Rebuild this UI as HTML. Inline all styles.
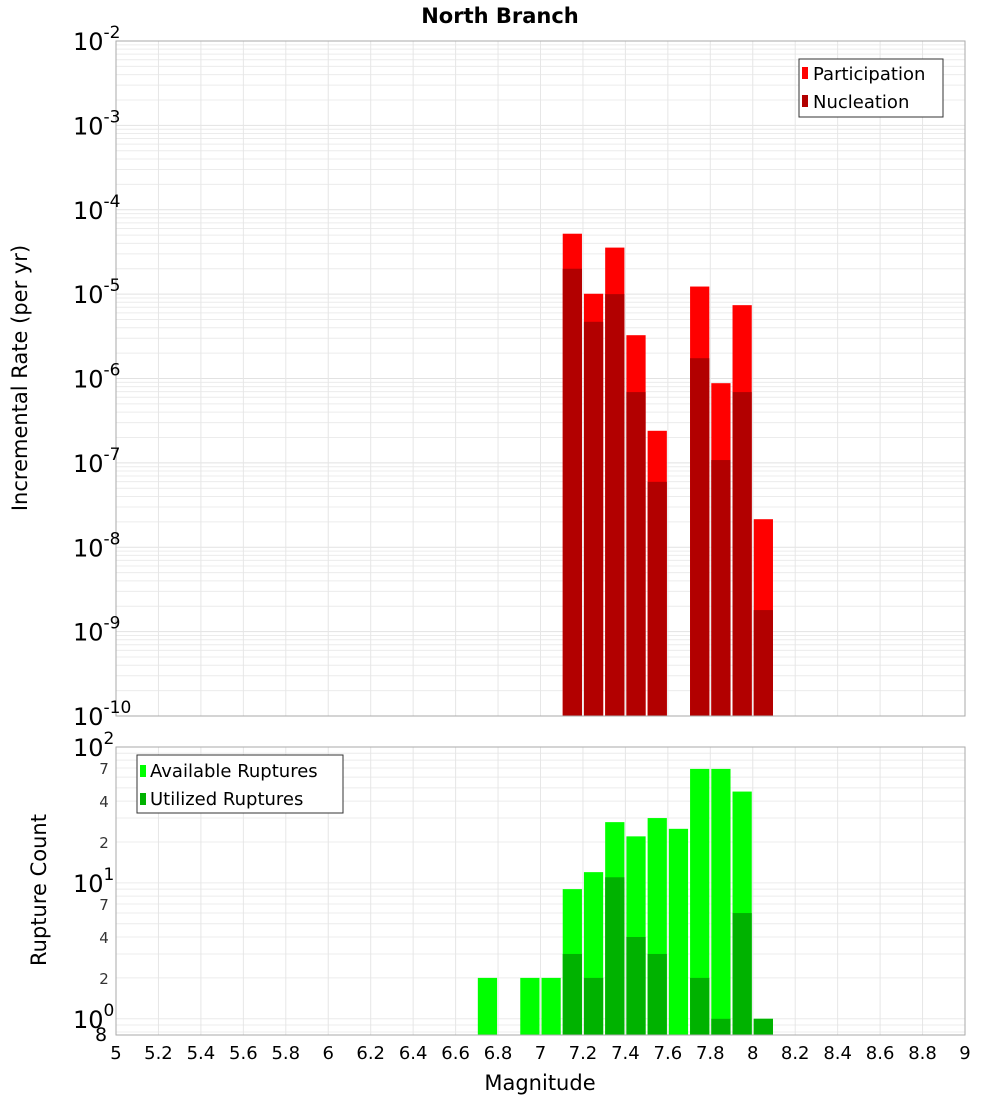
<!DOCTYPE html>
<html><head><meta charset="utf-8"><style>
html,body{margin:0;padding:0;background:#fff;}
svg{display:block;font-family:"DejaVu Sans","Liberation Sans",sans-serif;}
</style></head><body>
<svg id="chart" width="1000" height="1100" viewBox="0 0 1000 1100" xmlns="http://www.w3.org/2000/svg">
<g id="g"></g>
</svg>
<script>
const mags = [6.75,6.85,6.95,7.05,7.15,7.25,7.35,7.45,7.55,7.65,7.75,7.85,7.95,8.05];
const participation = [0,0,0,0,5.2e-5,1.01e-5,3.56e-5,3.26e-6,2.4e-7,0,1.23e-5,8.8e-7,7.4e-6,2.15e-8];
const nucleation = [0,0,0,0,2.0e-5,4.7e-6,1.0e-5,6.9e-7,5.96e-8,0,1.74e-6,1.08e-7,6.9e-7,1.8e-9];
const available = [2,0,2,2,9,12,28,22,30,25,69,69,47,1];
const utilized = [0,0,0,0,3,2,11,4,3,0,2,1,6,1];
const xTicks = [5,5.2,5.4,5.6,5.8,6,6.2,6.4,6.6,6.8,7,7.2,7.4,7.6,7.8,8,8.2,8.4,8.6,8.8,9];
const topExps = [-2,-3,-4,-5,-6,-7,-8,-9,-10];
const botMinorLabels = [2,4,7];

const NS="http://www.w3.org/2000/svg";
const G=document.getElementById('g');
function el(t,a,txt){const e=document.createElementNS(NS,t);for(const k in a)e.setAttribute(k,a[k]);if(txt!==undefined)e.textContent=txt;G.appendChild(e);return e;}
const X0=116,X1=965;
const xS=m=>X0+(m-5)/4*(X1-X0);
const T0=41,T1=716;
const yT=v=>T0+(-2-Math.log10(v))/8*(T1-T0);
const B0=747,B1=1035,BMIN=Math.log10(0.76);
const yB=v=>B0+(2-Math.log10(v))/(2-BMIN)*(B1-B0);
const bw=xS(5.1)-xS(5)-2;

// top grid
for(let d=-10;d<-2;d++){for(let k=1;k<10;k++){const y=yT(k*Math.pow(10,d));
const l=el('line',{x1:X0,x2:X1,y1:y,y2:y,stroke:k==1?'#e2e2e2':'#ececec','stroke-width':1});
}}
// bottom grid
for(let d=-1;d<2;d++){for(let k=1;k<10;k++){const v=k*Math.pow(10,d);if(v<0.76)continue;const y=yB(v);
const l=el('line',{x1:X0,x2:X1,y1:y,y2:y,stroke:'#ececec','stroke-width':1});
}}
xTicks.forEach(t=>{const x=xS(t);
[[T0,T1],[B0,B1]].forEach(r=>{const l=el('line',{x1:x,x2:x,y1:r[0],y2:r[1],stroke:'#e6e6e6','stroke-width':1});
});});

// top bars
mags.forEach((m,i)=>{const x=xS(m)-bw/2;
if(participation[i]>0){const r=el('rect',{x:x,y:yT(participation[i]),width:bw,height:T1-yT(participation[i]),fill:'#ff0000'});
}
if(nucleation[i]>0){const r=el('rect',{x:x,y:yT(nucleation[i]),width:bw,height:T1-yT(nucleation[i]),fill:'#b20000'});
}
if(available[i]>0){const r=el('rect',{x:x,y:yB(available[i]),width:bw,height:B1-yB(available[i]),fill:'#00ff00'});
}
if(utilized[i]>0){const r=el('rect',{x:x,y:yB(utilized[i]),width:bw,height:B1-yB(utilized[i]),fill:'#00b200'});
}
});

// frames
[[T0,T1,'top-plot-frame'],[B0,B1,'bottom-plot-frame']].forEach(r=>{const f=el('rect',{x:X0,y:r[0],width:X1-X0,height:r[1]-r[0],fill:'none',stroke:'#aaaaaa','stroke-width':1});
});

// top y labels
topExps.forEach(e=>{const y=yT(Math.pow(10,e));
const t=el('text',{x:73,y:y+9,'font-size':24,fill:'#000'});

const a=document.createElementNS(NS,'tspan');a.textContent='10';t.appendChild(a);
const b=document.createElementNS(NS,'tspan');b.setAttribute('dy',-12);b.setAttribute('font-size',17);b.textContent=String(e);t.appendChild(b);});
// bottom y labels
[[2,100],[1,10],[0,1]].forEach(p=>{const y=yB(p[1]);
const t=el('text',{x:73,y:y+9,'font-size':24,fill:'#000'});

const a=document.createElementNS(NS,'tspan');a.textContent='10';t.appendChild(a);
const b=document.createElementNS(NS,'tspan');b.setAttribute('dy',-12);b.setAttribute('font-size',17);b.textContent=String(p[0]);t.appendChild(b);});
[1,10].forEach(base=>botMinorLabels.forEach(k=>{const y=yB(k*base);
const t=el('text',{x:104,y:y+6,'font-size':15,fill:'#333','text-anchor':'middle'},String(k));
}));
{const t=el('text',{x:101,y:1041,'font-size':19,fill:'#000','text-anchor':'middle'},'8');
}

// x labels
xTicks.forEach(v=>{const t=el('text',{x:xS(v),y:1059,'font-size':18,fill:'#000','text-anchor':'middle'},String(v));
});
</script>
<svg style="position:absolute;left:0;top:0" width="1000" height="1100" xmlns="http://www.w3.org/2000/svg">
<text x="500" y="23" font-size="21" font-weight="bold" text-anchor="middle" font-family="DejaVu Sans, Liberation Sans, sans-serif">North Branch</text>
<text x="540" y="1090" font-size="21" text-anchor="middle" font-family="DejaVu Sans, Liberation Sans, sans-serif">Magnitude</text>
<text transform="translate(27,378) rotate(-90)" font-size="21" text-anchor="middle" font-family="DejaVu Sans, Liberation Sans, sans-serif">Incremental Rate (per yr)</text>
<text transform="translate(46,890) rotate(-90)" font-size="21" text-anchor="middle" font-family="DejaVu Sans, Liberation Sans, sans-serif">Rupture Count</text>
<g font-family="DejaVu Sans, Liberation Sans, sans-serif" font-size="18">
<rect x="799" y="59" width="144" height="58" fill="#fff" stroke="#333"/>
<rect x="802" y="67" width="6" height="12" fill="#ff0000"/>
<text x="813" y="80">Participation</text>
<rect x="802" y="95" width="6" height="12" fill="#b20000"/>
<text x="813" y="108">Nucleation</text>
</g>
<g font-family="DejaVu Sans, Liberation Sans, sans-serif" font-size="18">
<rect x="137" y="755" width="206" height="58" fill="#fff" stroke="#333"/>
<rect x="140" y="765" width="6" height="12" fill="#00ff00"/>
<text x="150" y="777">Available Ruptures</text>
<rect x="140" y="793" width="6" height="12" fill="#00b200"/>
<text x="150" y="805">Utilized Ruptures</text>
</g>
</svg>
</body></html>
